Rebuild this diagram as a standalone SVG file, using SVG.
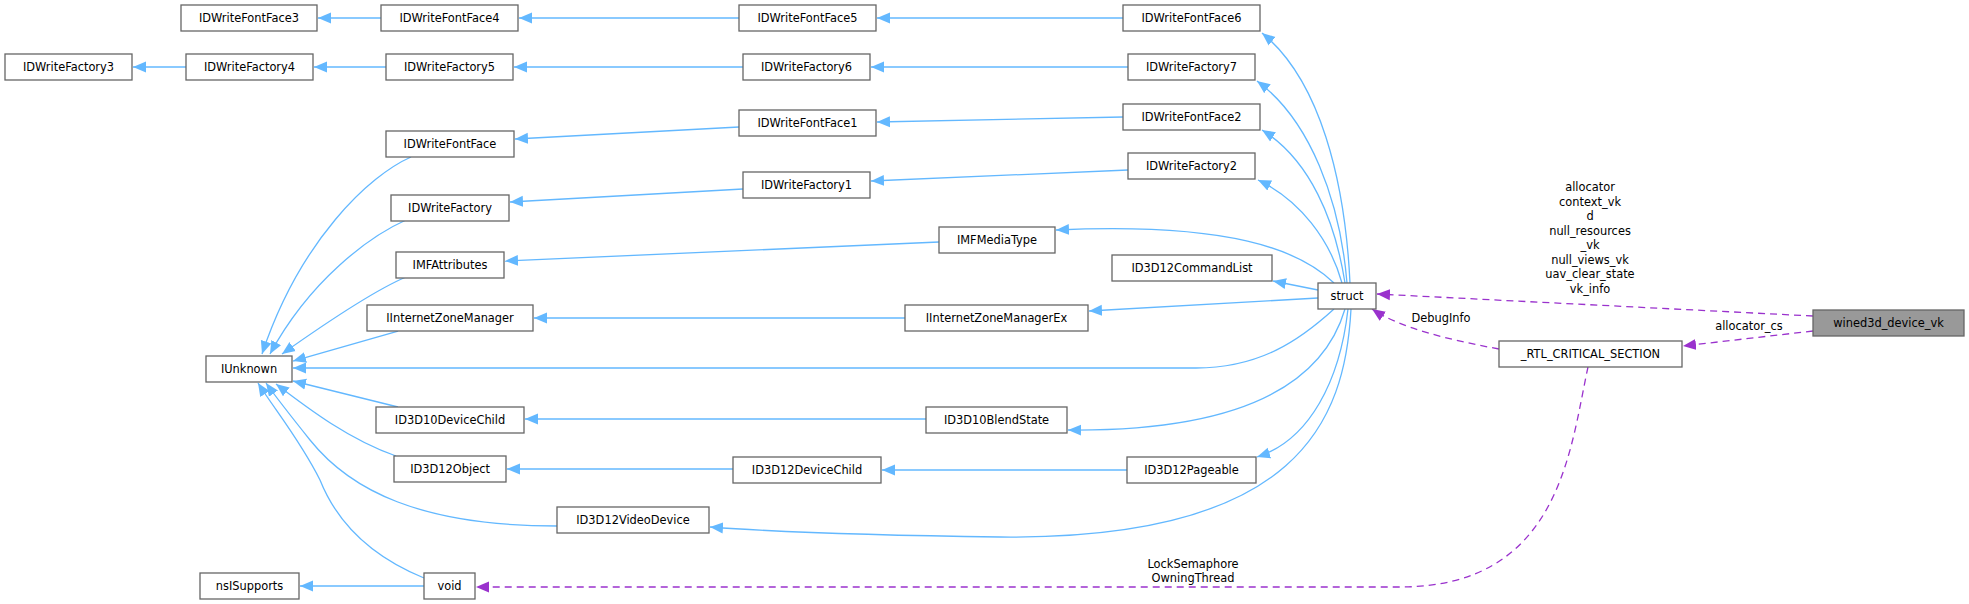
<svg xmlns="http://www.w3.org/2000/svg" width="1969" height="604" viewBox="0 0 1969 604">
<defs>
<style>
.n rect{fill:#fff;stroke:#666;stroke-width:1.3}
.n text,.l{font-family:"DejaVu Sans",sans-serif;font-size:11.4px;fill:#000;text-anchor:middle}
.b{fill:none;stroke:#63b8ff;stroke-width:1.3;marker-end:url(#ab)}
.p{fill:none;stroke:#9a32cd;stroke-width:1.3;stroke-dasharray:7,5;marker-end:url(#ap)}
</style>
<marker id="ab" markerUnits="userSpaceOnUse" markerWidth="14" markerHeight="12" refX="13" refY="6" orient="auto"><path d="M0,0.5 L13,6 L0,11.5z" fill="#63b8ff"/></marker>
<marker id="ap" markerUnits="userSpaceOnUse" markerWidth="14" markerHeight="12" refX="13" refY="6" orient="auto"><path d="M0,0.5 L13,6 L0,11.5z" fill="#9a32cd"/></marker>
</defs>
<rect width="1969" height="604" fill="#fff"/>
<g id="edges">
<path class="b" d="M381,18 L318,18"/>
<path class="b" d="M739,18 L519,18"/>
<path class="b" d="M1123,18 L877,18"/>
<path class="b" d="M186,67 L133,67"/>
<path class="b" d="M386,67 L314,67"/>
<path class="b" d="M743,67 L514,67"/>
<path class="b" d="M1128,67 L871,67"/>
<path class="b" d="M739,127 L515,139"/>
<path class="b" d="M1123,117 L877,122"/>
<path class="b" d="M743,189 L510,202"/>
<path class="b" d="M1128,170 L871,181"/>
<path class="b" d="M939,242 L505,261"/>
<path class="b" d="M905,318 L534,318"/>
<path class="b" d="M926,419 L525,419"/>
<path class="b" d="M733,469 L507,469"/>
<path class="b" d="M1127,470 L882,470"/>
<path class="b" d="M424,586 L300,586"/>
<path class="b" d="M411,157 C370,175 300,240 262,354"/>
<path class="b" d="M406,220 C370,236 310,280 270,354"/>
<path class="b" d="M406,277 C380,288 330,320 282,354"/>
<path class="b" d="M398,331 L293,361"/>
<path class="b" d="M1334,309 C1300,340 1260,368 1196,368 L293,368"/>
<path class="b" d="M398,407 L293,381"/>
<path class="b" d="M396,456 C350,440 310,410 276,384"/>
<path class="b" d="M557,526 C420,526 350,490 310,440 C290,415 278,400 266,383"/>
<path class="b" d="M424,578 C380,560 340,530 320,480 C300,440 275,410 258,383"/>
<path class="b" d="M1350,283 C1345,180 1320,80 1262,33"/>
<path class="b" d="M1347,283 C1340,200 1310,120 1257,81"/>
<path class="b" d="M1345,283 C1335,220 1310,160 1262,130"/>
<path class="b" d="M1342,283 C1330,240 1300,200 1258,180"/>
<path class="b" d="M1334,283 C1300,250 1230,222 1056,230"/>
<path class="b" d="M1318,290 L1273,281"/>
<path class="b" d="M1318,298 L1089,311"/>
<path class="b" d="M1345,309 C1330,360 1280,432 1068,430"/>
<path class="b" d="M1348,309 C1340,380 1310,440 1257,457"/>
<path class="b" d="M1351,309 C1345,420 1300,540 1000,537 C850,535 750,530 710,527"/>
<path class="p" d="M1813,316 L1377,294"/>
<path class="p" d="M1813,331 L1683,346"/>
<path class="p" d="M1499,349 C1450,340 1400,328 1372,309"/>
<path class="p" d="M1588,367 C1570,450 1560,587 1400,587 L476,587"/>
<text class="l" x="1590" y="191">allocator</text>
<text class="l" x="1590" y="206">context_vk</text>
<text class="l" x="1590" y="220">d</text>
<text class="l" x="1590" y="235">null_resources</text>
<text class="l" x="1590" y="249">_vk</text>
<text class="l" x="1590" y="264">null_views_vk</text>
<text class="l" x="1590" y="278">uav_clear_state</text>
<text class="l" x="1590" y="293">vk_info</text>
<text class="l" x="1441" y="322">DebugInfo</text>
<text class="l" x="1749" y="330">allocator_cs</text>
<text class="l" x="1193" y="568">LockSemaphore</text>
<text class="l" x="1193" y="582">OwningThread</text>
</g>
<g id="IDWriteFontFace3" class="n"><rect x="181" y="5" width="136" height="26"/><text x="249" y="22">IDWriteFontFace3</text></g>
<g id="IDWriteFontFace4" class="n"><rect x="381" y="5" width="137" height="26"/><text x="449.5" y="22">IDWriteFontFace4</text></g>
<g id="IDWriteFontFace5" class="n"><rect x="739" y="5" width="137" height="26"/><text x="807.5" y="22">IDWriteFontFace5</text></g>
<g id="IDWriteFontFace6" class="n"><rect x="1123" y="5" width="137" height="26"/><text x="1191.5" y="22">IDWriteFontFace6</text></g>
<g id="IDWriteFactory3" class="n"><rect x="5" y="54" width="127" height="26"/><text x="68.5" y="71">IDWriteFactory3</text></g>
<g id="IDWriteFactory4" class="n"><rect x="186" y="54" width="127" height="26"/><text x="249.5" y="71">IDWriteFactory4</text></g>
<g id="IDWriteFactory5" class="n"><rect x="386" y="54" width="127" height="26"/><text x="449.5" y="71">IDWriteFactory5</text></g>
<g id="IDWriteFactory6" class="n"><rect x="743" y="54" width="127" height="26"/><text x="806.5" y="71">IDWriteFactory6</text></g>
<g id="IDWriteFactory7" class="n"><rect x="1128" y="54" width="127" height="26"/><text x="1191.5" y="71">IDWriteFactory7</text></g>
<g id="IDWriteFontFace2" class="n"><rect x="1123" y="104" width="137" height="26"/><text x="1191.5" y="121">IDWriteFontFace2</text></g>
<g id="IDWriteFontFace1" class="n"><rect x="739" y="110" width="137" height="26"/><text x="807.5" y="127">IDWriteFontFace1</text></g>
<g id="IDWriteFontFace" class="n"><rect x="386" y="131" width="128" height="26"/><text x="450" y="148">IDWriteFontFace</text></g>
<g id="IDWriteFactory2" class="n"><rect x="1128" y="153" width="127" height="26"/><text x="1191.5" y="170">IDWriteFactory2</text></g>
<g id="IDWriteFactory1" class="n"><rect x="743" y="172" width="127" height="26"/><text x="806.5" y="189">IDWriteFactory1</text></g>
<g id="IDWriteFactory" class="n"><rect x="391" y="195" width="118" height="26"/><text x="450" y="212">IDWriteFactory</text></g>
<g id="IMFMediaType" class="n"><rect x="939" y="227" width="116" height="26"/><text x="997" y="244">IMFMediaType</text></g>
<g id="IMFAttributes" class="n"><rect x="396" y="252" width="108" height="26"/><text x="450" y="269">IMFAttributes</text></g>
<g id="ID3D12CommandList" class="n"><rect x="1112" y="255" width="160" height="26"/><text x="1192" y="272">ID3D12CommandList</text></g>
<g id="struct" class="n"><rect x="1318" y="283" width="58" height="26"/><text x="1347" y="300">struct</text></g>
<g id="IInternetZoneManager" class="n"><rect x="367" y="305" width="166" height="26"/><text x="450" y="322">IInternetZoneManager</text></g>
<g id="IInternetZoneManagerEx" class="n"><rect x="905" y="305" width="183" height="26"/><text x="996.5" y="322">IInternetZoneManagerEx</text></g>
<g id="wined3d_device_vk" class="n"><rect x="1813" y="310" width="151" height="26" style="fill:#999"/><text x="1888.5" y="327">wined3d_device_vk</text></g>
<g id="_RTL_CRITICAL_SECTION" class="n"><rect x="1499" y="341" width="183" height="26"/><text x="1590.5" y="358">_RTL_CRITICAL_SECTION</text></g>
<g id="IUnknown" class="n"><rect x="206" y="356" width="86" height="26"/><text x="249" y="373">IUnknown</text></g>
<g id="ID3D10DeviceChild" class="n"><rect x="376" y="407" width="148" height="26"/><text x="450" y="424">ID3D10DeviceChild</text></g>
<g id="ID3D10BlendState" class="n"><rect x="926" y="407" width="141" height="26"/><text x="996.5" y="424">ID3D10BlendState</text></g>
<g id="ID3D12Object" class="n"><rect x="394" y="456" width="112" height="26"/><text x="450" y="473">ID3D12Object</text></g>
<g id="ID3D12DeviceChild" class="n"><rect x="733" y="457" width="148" height="26"/><text x="807" y="474">ID3D12DeviceChild</text></g>
<g id="ID3D12Pageable" class="n"><rect x="1127" y="457" width="129" height="26"/><text x="1191.5" y="474">ID3D12Pageable</text></g>
<g id="ID3D12VideoDevice" class="n"><rect x="557" y="507" width="152" height="26"/><text x="633" y="524">ID3D12VideoDevice</text></g>
<g id="nsISupports" class="n"><rect x="200" y="573" width="99" height="26"/><text x="249.5" y="590">nsISupports</text></g>
<g id="void" class="n"><rect x="424" y="573" width="51" height="26"/><text x="449.5" y="590">void</text></g>
</svg>
